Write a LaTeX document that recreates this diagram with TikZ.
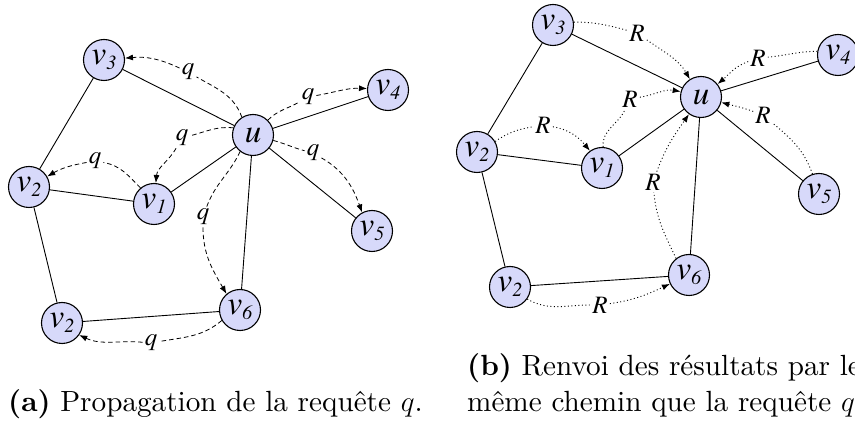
\documentclass[tikz,border=0pt]{standalone}
\usepackage{fix-cm}
\usepackage{fontspec}
% Times-like italic for the graph labels, Latin Modern 10 for the captions
\IfFontExistsTF{texgyretermes-italic.otf}
  {\newfontfamily\graphfont{texgyretermes-italic.otf}}
  {\newfontfamily\graphfont{lmroman10-italic.otf}}
\newfontfamily\capfont{lmroman10-regular.otf}[BoldFont=lmroman10-bold.otf]
\usetikzlibrary{arrows.meta}
\definecolor{nodefill}{RGB}{215,217,250}
% vertex name v with a lowered index
\newcommand{\vlab}[1]{v\raisebox{-5pt}{\fontsize{20}{20}\selectfont #1}}

\begin{document}
\begin{tikzpicture}[x=1pt,y=1pt,
  vertex/.style={circle,draw,line width=1.1pt,fill=nodefill,minimum size=41pt,inner sep=0pt,
    font=\graphfont\fontsize{33}{33}\selectfont},
  link/.style={line width=0.9pt},
  elabel/.style={inner sep=2pt,font=\graphfont\fontsize{25}{25}\selectfont},
  query/.style={line width=0.8pt,dash pattern=on 4.5pt off 3pt,-{Latex[length=8pt,width=6pt]}},
  reply/.style={line width=0.9pt,dash pattern=on 1pt off 2.5pt,-{Latex[length=8pt,width=6pt]}},
  caption/.style={anchor=base west,inner sep=0pt,font=\capfont\fontsize{29.2}{35}\selectfont}]
\useasboundingbox (0,0) rectangle (855,423);

% ---------- (a) query propagation ----------
\node[vertex] (au)  at (253,288) {u};
\node[vertex] (av3) at (104,363) {\vlab{3}};
\node[vertex] (av4) at (388,333) {\vlab{4}};
\node[vertex] (av2) at (29,236)  {\vlab{2}};
\node[vertex] (av1) at (154,219) {\vlab{1}};
\node[vertex] (av5) at (372,192) {\vlab{5}};
\node[vertex] (av6) at (240,113) {\vlab{6}};
\node[vertex] (av2b) at (62,100) {\vlab{2}};

\draw[link] (av3) -- (au);
\draw[link] (av3) -- (av2);
\draw[link] (av2) -- (av1);
\draw[link] (av1) -- (au);
\draw[link] (av2) -- (av2b);
\draw[link] (av2b) -- (av6);
\draw[link] (av6) -- (au);
\draw[link] (au) -- (av4);
\draw[link] (au) -- (av5);

\node[elabel] (aq3) at (188,351) {q};
\node[elabel] (aq4) at (308,326) {q};
\node[elabel] (aq5) at (313,270) {q};
\node[elabel] (aq1) at (182,285) {q};
\node[elabel] (aq6) at (203,206) {q};
\node[elabel] (aq2) at (95,262)  {q};
\node[elabel] (aq2b) at (151,80) {q};

\draw[query] (au.122) to[out=110,in=-30] (aq3) to[out=155,in=5] (av3.5);
\draw[query] (au.45) to[out=45,in=-150] (aq4) to[out=10,in=178] (av4.176);
\draw[query] (au.-15) to[out=-15,in=165] (aq5) to[out=-30,in=110] (av5.118);
\draw[query] (au.160) to[out=175,in=15] (aq1) to[out=-120,in=85] (av1.85);
\draw[query] (au.-128) to[out=-115,in=70] (aq6) to[out=-90,in=120] (av6.130);
\draw[query] (av1.130) to[out=135,in=-10] (aq2) to[out=190,in=30] (av2.30);
\draw[query] (av6.-150) to[out=-140,in=10] (aq2b) to[out=175,in=-25] (av2b.-35);

% ---------- (b) results sent back ----------
\node[vertex] (bu)  at (701,326) {u};
\node[vertex] (bv3) at (553,398) {\vlab{3}};
\node[vertex] (bv4) at (838,368) {\vlab{4}};
\node[vertex] (bv2) at (477,271) {\vlab{2}};
\node[vertex] (bv1) at (602,255) {\vlab{1}};
\node[vertex] (bv5) at (819,229) {\vlab{5}};
\node[vertex] (bv6) at (689,148) {\vlab{6}};
\node[vertex] (bv2b) at (510,136) {\vlab{2}};

\draw[link] (bv3) -- (bu);
\draw[link] (bv3) -- (bv2);
\draw[link] (bv2) -- (bv1);
\draw[link] (bv1) -- (bu);
\draw[link] (bv2) -- (bv2b);
\draw[link] (bv2b) -- (bv6);
\draw[link] (bv6) -- (bu);
\draw[link] (bu) -- (bv4);
\draw[link] (bu) -- (bv5);

\node[elabel] (br3) at (637,390) {R};
\node[elabel] (br4) at (758,365) {R};
\node[elabel] (br5) at (763,308) {R};
\node[elabel] (br1) at (630,324) {R};
\node[elabel] (br2) at (543,298) {R};
\node[elabel] (br6) at (653,241) {R};
\node[elabel] (br2b) at (600,118) {R};

\draw[reply] (bv3.8) to[out=0,in=165] (br3) to[out=-35,in=120] (bu.122);
\draw[reply] (bv4.170) to[out=180,in=5] (br4) to[out=-160,in=40] (bu.38);
\draw[reply] (bv5.108) to[out=110,in=-40] (br5) to[out=160,in=-15] (bu.-15);
\draw[reply] (bv1.87) to[out=95,in=-115] (br1) to[out=10,in=170] (bu.165);
\draw[reply] (bv2.30) to[out=35,in=190] (br2) to[out=-10,in=130] (bv1.125);
\draw[reply] (bv6.128) to[out=115,in=-85] (br6) to[out=70,in=-125] (bu.-125);
\draw[reply] (bv2b.-35) to[out=-30,in=180] (br2b) to[out=8,in=-155] (bv6.-155);

% ---------- captions ----------
\node[caption] (capa) at (8,11.3) {\textbf{(a)} Propagation de la requête $q$.};
\node[caption] (capb1) at (467,47.3) {\textbf{(b)} Renvoi des résultats par le};
\node[caption] (capb2) at (467,11.3) {même chemin que la requête $q$};
\end{tikzpicture}
\end{document}
